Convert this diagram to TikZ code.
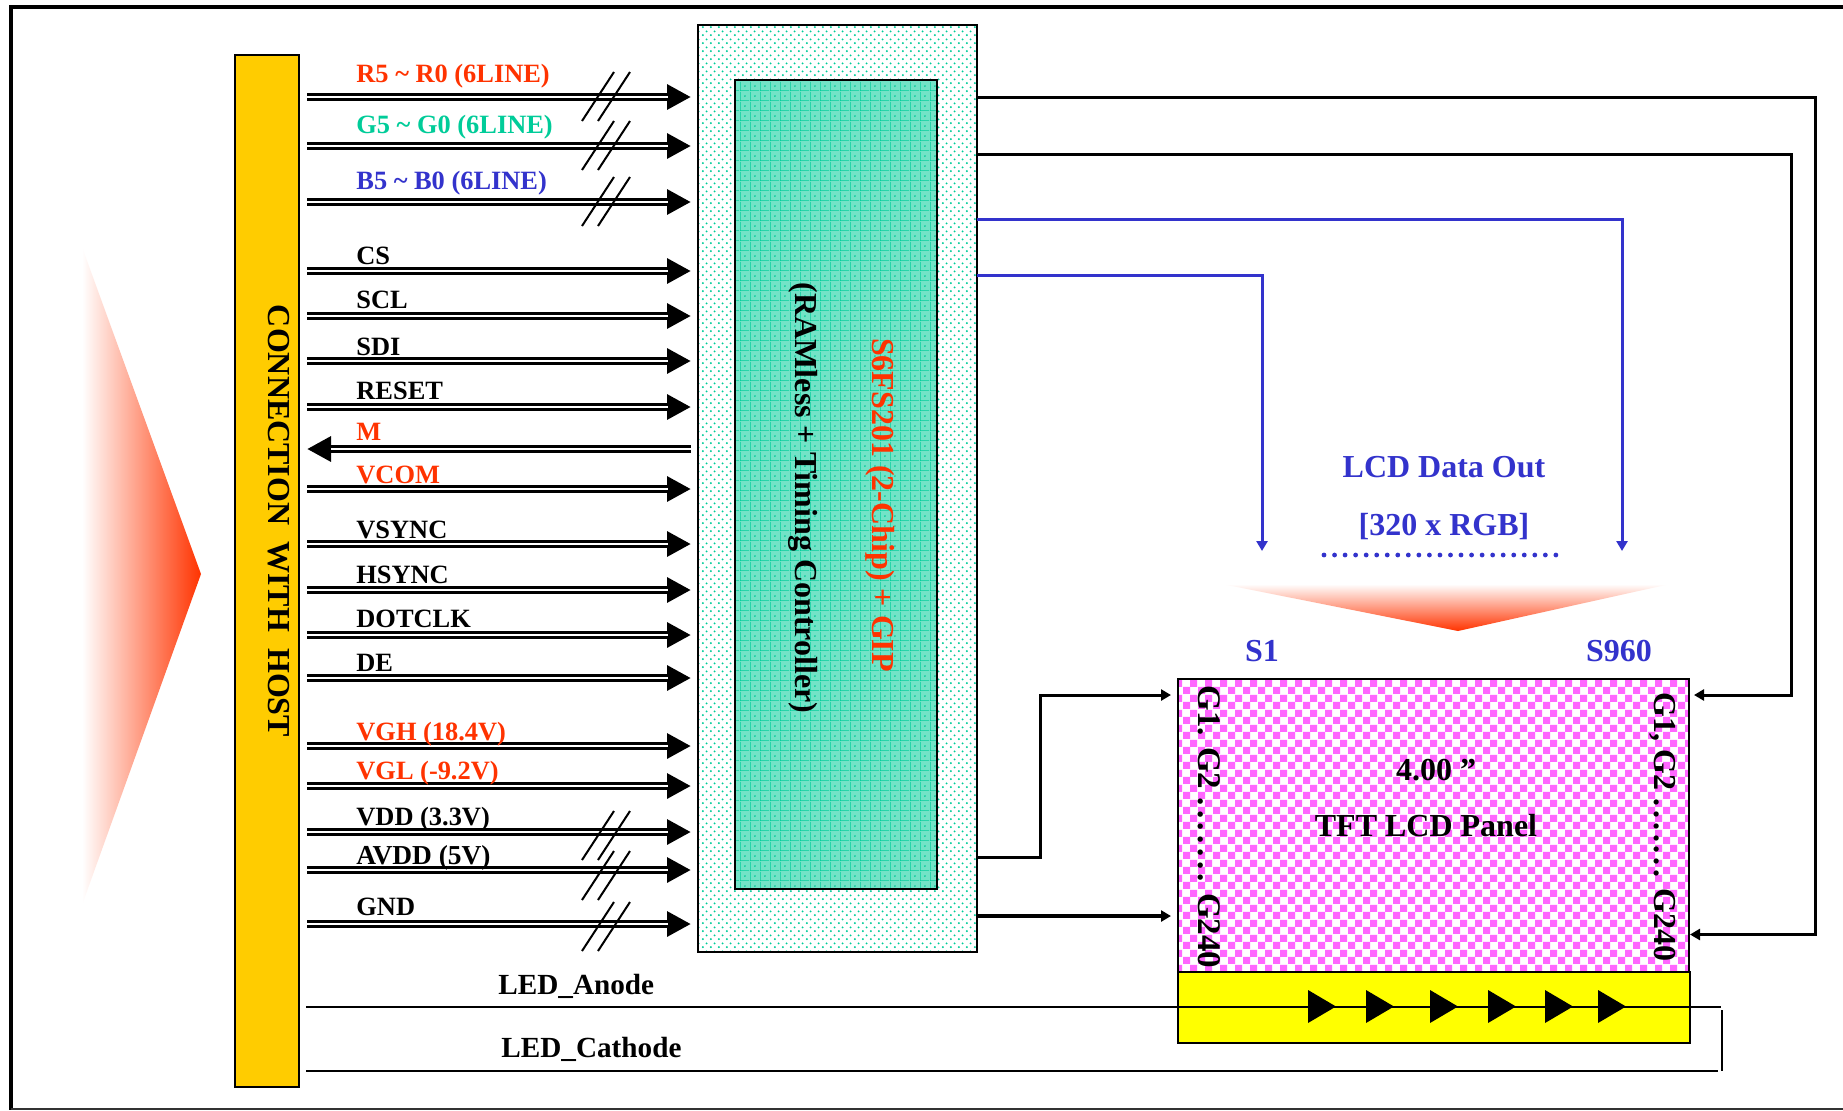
\documentclass[tikz,border=0pt]{standalone}
\usepackage{fontspec}
\setmainfont{Liberation Serif}
\usetikzlibrary{arrows.meta,patterns,calc}
\definecolor{cred}{HTML}{FF3300}
\definecolor{cteal}{HTML}{00CC99}
\definecolor{cblue}{HTML}{3333CC}
\definecolor{cgold}{HTML}{FFCC00}
\definecolor{cmag}{HTML}{FF66FF}
\definecolor{cyel}{RGB}{255,255,0}
\pgfdeclarepatternformonly{mychk}{\pgfqpoint{0pt}{0pt}}{\pgfqpoint{7.3pt}{7.3pt}}{\pgfqpoint{7.3pt}{7.3pt}}{%
  \pgfpathrectangle{\pgfqpoint{0pt}{0pt}}{\pgfqpoint{3.65pt}{3.65pt}}%
  \pgfpathrectangle{\pgfqpoint{3.65pt}{3.65pt}}{\pgfqpoint{3.65pt}{3.65pt}}%
  \pgfusepath{fill}}
\pgfdeclarepatternformonly{mydots}{\pgfqpoint{0pt}{0pt}}{\pgfqpoint{3.85pt}{3.85pt}}{\pgfqpoint{3.85pt}{3.85pt}}{%
  \pgfpathcircle{\pgfqpoint{0.96pt}{0.96pt}}{0.55pt}%
  \pgfpathcircle{\pgfqpoint{2.89pt}{2.89pt}}{0.55pt}%
  \pgfusepath{fill}}
\pgfdeclarepatternformonly{mygrid}{\pgfqpoint{0pt}{0pt}}{\pgfqpoint{5pt}{5pt}}{\pgfqpoint{5pt}{5pt}}{%
  \pgfpathrectangle{\pgfqpoint{0pt}{0pt}}{\pgfqpoint{5pt}{0.35pt}}%
  \pgfpathrectangle{\pgfqpoint{0pt}{0pt}}{\pgfqpoint{0.35pt}{5pt}}%
  \pgfpathcircle{\pgfqpoint{2.7pt}{2.7pt}}{0.5pt}%
  \pgfusepath{fill}}
\begin{document}
\begin{tikzpicture}[x=0.5pt,y=-0.5pt,
  lab/.style={font=\fontsize{13.2}{15}\selectfont\bfseries,anchor=base west,inner sep=0pt},
  rot/.style={font=\fontsize{16}{18}\selectfont\bfseries,rotate=-90,inner sep=0pt},
  big/.style={font=\fontsize{16}{18}\selectfont\bfseries,inner sep=0pt},
  busline/.style={line width=4pt,-{Triangle[length=12pt,width=12pt]}},
  busgap/.style={white,line width=1pt},
  tick/.style={line width=1pt},
  wire/.style={line width=1.5pt},
  wirea/.style={wire,-{Triangle[length=5pt,width=5.5pt]}},
  bwire/.style={wirea,cblue,line width=1.5pt},
  thin wire/.style={line width=1pt},
  boxx/.style={draw,line width=1pt,inner sep=0pt,outer sep=0pt,anchor=north west}
]
\useasboundingbox (0,0) rectangle (1843,1110);
\fill[white] (0,0) rectangle (1843,1110);
% frame
\draw[line width=2pt] (1843,7) -- (11,7) -- (11,1110);
\draw[line width=0.6pt,black!80] (11,1109) -- (1843,1109);
% gradient arrows
\shade[left color=white,middle color=red!18!white,right color=cred] (82,247) -- (201,574) -- (82,905) -- cycle;
\shade[top color=white,middle color=red!18!white,bottom color=cred] (1222,584) -- (1670,584) -- (1458,631) -- cycle;
% boxes
\node[boxx,fill=cgold,minimum width=32pt,minimum height=516pt] (host) at (235,55) {};
\node[rot] (hostlab) at (279,521) {CONNECTION\ \ WITH\ \ HOST};
\node[boxx,fill=white,minimum width=139.5pt,minimum height=463.5pt] (chip) at (698,25) {};
\fill[pattern=mydots,pattern color=cteal] (chip.north west) rectangle (chip.south east);
\draw[line width=1pt] (chip.north west) rectangle (chip.south east);
\node[boxx,fill=cteal!55!white,minimum width=101pt,minimum height=404.5pt] (core) at (735,80) {};
\fill[pattern=mygrid,pattern color=cteal] (core.north west) rectangle (core.south east);
\draw[line width=1pt] (core.north west) rectangle (core.south east);
\node[rot,text=cred] (chiplab) at (880,505) {S6FS201 (2-Chip) + GIP};
\node[rot] (corelab) at (803,498) {(RAMless + Timing Controller)};
% panel
\node[boxx,fill=white,minimum width=255.5pt,minimum height=146.5pt] (panel) at (1178,679) {};
\fill[pattern=mychk,pattern color=cmag] (panel.north west) rectangle (panel.south east);
\draw[line width=1pt] (panel.north west) rectangle (panel.south east);
\node[boxx,fill=cyel,minimum width=256pt,minimum height=35.5pt] (led) at (1178,972) {};
\node[rot,font=\fontsize{16.5}{18}\selectfont\bfseries] (gl) at (1209,827) {G1. G2 .\kern2.25pt.\kern2.25pt.\kern2.25pt.\kern2.25pt.\kern2.25pt.\kern2.25pt. G240};
\node[rot,font=\fontsize{16}{18}\selectfont\bfseries] (gr) at (1663,827) {G1, G2 .\kern1.9pt.\kern1.9pt.\kern1.9pt.\kern1.9pt.\kern1.9pt.\kern1.9pt. G240};
\node[big] (size) at (1436,770) {4.00 ”};
\node[big] (tft) at (1426,826) {TFT LCD Panel};
\node[big,text=cblue] (s1) at (1262,651) {S1};
\node[big,text=cblue] (s960) at (1619,651) {S960};
\node[big,text=cblue] (dataout) at (1444,467) {LCD Data Out};
\node[big,text=cblue] (res) at (1444,527) {[320 x RGB]};
\coordinate (dl) at (1324,555);
\coordinate (dr) at (1556,555);
\draw[cblue,line width=2.4pt,line cap=round,dash pattern=on 0pt off 5.27pt] (dl) -- (dr);
% buses
\foreach \n/\y/\by/\t/\c in {
 a/97/82/R5 \textasciitilde{} R0 (6LINE)/cred,
 b/146/133/G5 \textasciitilde{} G0 (6LINE)/cteal,
 c/202/189/B5 \textasciitilde{} B0 (6LINE)/cblue,
 d/271/264/CS/black,
 e/316/308/SCL/black,
 f/361/355/SDI/black,
 g/407/399/RESET/black,
 i/489/483/VCOM/cred,
 j/544/538/VSYNC/black,
 k/590/583/HSYNC/black,
 l/635/627/DOTCLK/black,
 m/678/671/DE/black,
 n/746/740/VGH (18.4V)/cred,
 o/786/779/VGL (-9.2V)/cred,
 p/832/825/VDD (3.3V)/black,
 q/870/864/{\fontsize{13.7}{15}\selectfont AVDD (5V)}/black,
 r/924/915/GND/black}{
  \coordinate (s\n) at (307,\y);
  \coordinate (e\n) at (691,\y);
  \coordinate (g\n) at (668,\y);
  \draw[busline] (s\n) -- (e\n);
  \draw[busgap] (s\n) -- (g\n);
  \node[lab,text=\c] (t\n) at (356,\by) {\t};
}
% M
\coordinate (sM) at (691,449);
\coordinate (eM) at (307,449);
\coordinate (gM) at (331,449);
\draw[busline] (sM) -- (eM);
\draw[busgap] (sM) -- (gM);
\node[lab,text=cred] (tM) at (356,440) {M};
% ticks
\foreach \y in {121,170,226,860,900,951}{
  \coordinate (ta) at (582,\y);
  \coordinate (tb) at (614,\y-49);
  \coordinate (tc) at (598,\y);
  \coordinate (td) at (630,\y-49);
  \draw[tick] (ta) -- (tb);
  \draw[tick] (tc) -- (td);
}
% right wires
\coordinate (o1) at (977,97);
\coordinate (c1) at (1815,97);
\coordinate (c1b) at (1815,934.5);
\coordinate (p1) at (1690,934.5);
\draw[wirea] (o1) -- (c1) -- (c1b) -- (p1);
\coordinate (o2) at (977,154);
\coordinate (c2) at (1791,154);
\coordinate (c2b) at (1791,695);
\coordinate (p2) at (1694,695);
\draw[wirea] (o2) -- (c2) -- (c2b) -- (p2);
\coordinate (o3) at (977,219);
\coordinate (c3) at (1622,219);
\coordinate (p3) at (1622,551);
\draw[bwire] (o3) -- (c3) -- (p3);
\coordinate (o4) at (977,275);
\coordinate (c4) at (1262,275);
\coordinate (p4) at (1262,551);
\draw[bwire] (o4) -- (c4) -- (p4);
\coordinate (o5) at (977,857);
\coordinate (c5) at (1040,857);
\coordinate (c5b) at (1040,695);
\coordinate (p5) at (1171,695);
\draw[wirea] (o5) -- (c5) -- (c5b) -- (p5);
\coordinate (o6) at (977,916);
\coordinate (p6) at (1171,916);
\draw[wirea,line width=1.9pt] (o6) -- (p6);
% LED lines
\node[lab,font=\fontsize{14.6}{16}\selectfont\bfseries] (anode) at (498,994) {LED\_Anode};
\node[lab,font=\fontsize{14.6}{16}\selectfont\bfseries] (cathode) at (501,1057) {LED\_Cathode};
\coordinate (la) at (306,1006.5);
\coordinate (lb) at (1721,1006.5);
\coordinate (lc) at (306,1071);
\coordinate (ld) at (1718,1071);
\coordinate (le) at (1722,1010);
\coordinate (lf) at (1722,1071);
\draw[thin wire] (la) -- (lb);
\draw[thin wire] (lc) -- (ld);
\draw[line width=1.3pt] (le) -- (lf);
\foreach \x in {1308,1366,1430,1488,1545,1598}{
  \fill (\x,990) -- (\x+28,1006.5) -- (\x,1023) -- cycle;
}
\end{tikzpicture}
\end{document}
